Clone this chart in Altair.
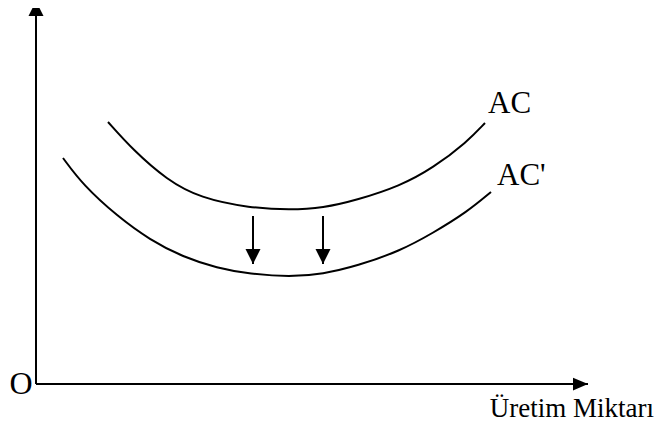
import altair as alt
import pandas as pd

# Curves (quantity q, cost c; origin at the axes' corner)
ac_q = [72, 97, 131, 164, 214, 254, 287, 321, 364, 397, 431, 449]
ac_c = [262, 234, 204, 186, 176, 174, 176, 184, 198, 216, 242, 261]
acp_q = [27, 47, 81, 114, 147, 181, 214, 254, 287, 321, 364, 397, 431, 455]
acp_c = [226, 199, 168, 144, 127, 116, 110, 107, 110, 118, 133, 151, 172, 192]

# Axes (start/end) and the downward shift arrows
axis_q0 = [0, 0]
axis_c0 = [0, 0]
axis_q1 = [0, 552]
axis_c1 = [383, 0]
shift_q = [217, 287]
shift_top = [168, 168]
shift_tip = [120, 120]

# Labels
lab_text = ["O", "AC", "AC'", "Üretim Miktarı"]
lab_q = [-15, 452, 461, 618]
lab_c = [0, 271, 199, -33]

W, H = 651, 416
xs = alt.Scale(domain=[-28, 623], nice=False, zero=False)
ys = alt.Scale(domain=[-40, 376], nice=False, zero=False)

curves = pd.DataFrame(
    {"q": ac_q + acp_q, "c": ac_c + acp_c,
     "curve": ["AC"] * len(ac_q) + ["AC'"] * len(acp_q)}
)
axes = pd.DataFrame({"q0": axis_q0, "c0": axis_c0, "q1": axis_q1, "c1": axis_c1})
shifts = pd.DataFrame({"q": shift_q, "top": shift_top, "tip": shift_tip})
labels = pd.DataFrame({"t": lab_text, "q": lab_q, "c": lab_c})

X = lambda f: alt.X(f, scale=xs, axis=None)
Y = lambda f: alt.Y(f, scale=ys, axis=None)

curve_layer = alt.Chart(curves).mark_line(
    interpolate="basis", color="black", strokeWidth=2
).encode(x=X("q:Q"), y=Y("c:Q"), detail="curve:N")

axis_lines = alt.Chart(axes).mark_rule(color="black", strokeWidth=2).encode(
    x=X("q0:Q"), y=Y("c0:Q"), x2="q1:Q", y2="c1:Q"
)
up_head = alt.Chart(axes.iloc[[0]]).mark_point(
    shape="M0,0L1,2L-1,2Z", size=225, filled=True, color="black", opacity=1, strokeWidth=0
).encode(x=X("q1:Q"), y=Y("c1:Q"))
right_head = alt.Chart(axes.iloc[[1]]).mark_point(
    shape="M0,0L-2,-0.85L-2,0.85Z", size=225, filled=True, color="black", opacity=1, strokeWidth=0
).encode(x=X("q1:Q"), y=Y("c1:Q"))

shift_lines = alt.Chart(shifts).mark_rule(color="black", strokeWidth=2).encode(
    x=X("q:Q"), y=Y("top:Q"), y2="tip:Q"
)
down_heads = alt.Chart(shifts).mark_point(
    shape="M0,0L1,-2L-1,-2Z", size=225, filled=True, color="black", opacity=1, strokeWidth=0
).encode(x=X("q:Q"), y=Y("tip:Q"))

font = "Liberation Serif"
o_label = alt.Chart(labels.iloc[[0]]).mark_text(
    font=font, fontSize=32, align="center", baseline="middle", color="black"
).encode(x=X("q:Q"), y=Y("c:Q"), text="t:N")
curve_labels = alt.Chart(labels.iloc[[1, 2]]).mark_text(
    font=font, fontSize=31, align="left", baseline="alphabetic", color="black"
).encode(x=X("q:Q"), y=Y("c:Q"), text="t:N")
x_label = alt.Chart(labels.iloc[[3]]).mark_text(
    font=font, fontSize=27, align="right", baseline="alphabetic", color="black"
).encode(x=X("q:Q"), y=Y("c:Q"), text="t:N")

chart = alt.layer(
    axis_lines, up_head, right_head, curve_layer, shift_lines, down_heads,
    o_label, curve_labels, x_label
).properties(
    width=W, height=H, padding=0, autosize=alt.AutoSizeParams(type="none"),
    background="white"
).configure_view(stroke=None)

chart.save("out.html", embed_options={"renderer": "svg", "actions": False})
